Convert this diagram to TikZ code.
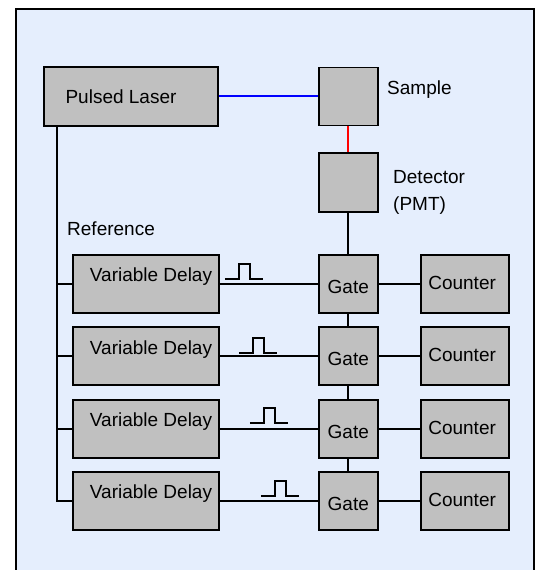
\documentclass[tikz,border=0pt]{standalone}
\usepackage{fontspec}
\setmainfont{Liberation Sans}
\usetikzlibrary{calc,positioning}
\definecolor{panelblue}{RGB}{229,238,253}
\definecolor{boxgray}{RGB}{192,192,192}

\begin{document}
\begin{tikzpicture}[
  x=1pt, y=-1pt,
  font=\fontsize{19}{23}\selectfont,
  box/.style={draw, line width=1.8pt, fill=boxgray, inner sep=0pt},
  delaybox/.style={box, minimum width=146pt, minimum height=58pt},
  gatebox/.style={box, minimum width=59pt, minimum height=58pt},
  countbox/.style={box, minimum width=88pt, minimum height=58pt},
  wire/.style={line width=2pt},
  pulse/.style={line width=2pt},
  tag/.style={inner sep=0pt, anchor=west}
]
  \clip (0,0) rectangle (538,570);
  \draw[line width=2.5pt, fill=panelblue] (16,9) rectangle (534,600);

  % rows of delay, gate and counter
  \node[delaybox, label={[xshift=5pt,yshift=7pt]center:Variable Delay}] (d1) at (146,284) {};
  \node[delaybox, below=12.5pt of d1, label={[xshift=5pt,yshift=7pt]center:Variable Delay}] (d2) {};
  \node[delaybox, below=12.5pt of d2, label={[xshift=5pt,yshift=7pt]center:Variable Delay}] (d3) {};
  \node[delaybox, below=12.5pt of d3, label={[xshift=5pt,yshift=7pt]center:Variable Delay}] (d4) {};

  \node[gatebox, right=98pt of d1, label={[yshift=-3pt]center:Gate}] (g1) {};
  \node[gatebox, right=98pt of d2, label={[yshift=-3pt]center:Gate}] (g2) {};
  \node[gatebox, right=98pt of d3, label={[yshift=-3pt]center:Gate}] (g3) {};
  \node[gatebox, right=98pt of d4, label={[yshift=-3pt]center:Gate}] (g4) {};

  \node[countbox, right=41pt of g1, label={[xshift=-2.5pt,yshift=1pt]center:Counter}] (c1) {};
  \node[countbox, right=41pt of g2, label={[xshift=-2.5pt,yshift=1pt]center:Counter}] (c2) {};
  \node[countbox, right=41pt of g3, label={[xshift=-2.5pt,yshift=1pt]center:Counter}] (c3) {};
  \node[countbox, right=41pt of g4, label={[xshift=-2.5pt,yshift=1pt]center:Counter}] (c4) {};

  % source and detection path
  \node[gatebox, minimum height=59pt, above=41pt of g1] (det) {};
  \node[gatebox, above=26pt of det] (sample) {};
  \node[box, minimum width=174pt, minimum height=59pt, left=99pt of sample,
        label={[xshift=-10pt]center:Pulsed Laser}] (laser) {};

  \node[tag] (sampletxt) at (387,90) {Sample};
  \node[tag] (dettxt) at (393,177) {Detector};
  \node[tag] (pmttxt) at (393,206) {(PMT)};
  \node[tag] (reftxt) at (67,229) {Reference};

  \draw[wire, blue] (laser.east) -- (sample.west);
  \draw[wire, red] (sample.south) -- (det.north);
  \draw[wire] (det.south) -- (g1.north);
  \draw[wire] (g1.south) -- (g2.north);
  \draw[wire] (g2.south) -- (g3.north);
  \draw[wire] (g3.south) -- (g4.north);

  % reference trunk
  \coordinate (trunk) at ($(laser.south west)+(14,0)$);
  \draw[wire] (trunk) |- (d4.west);
  \draw[wire] (trunk |- d1.west) -- (d1.west);
  \draw[wire] (trunk |- d2.west) -- (d2.west);
  \draw[wire] (trunk |- d3.west) -- (d3.west);

  \draw[wire] (d1.east) -- (g1.west);
  \draw[wire] (d2.east) -- (g2.west);
  \draw[wire] (d3.east) -- (g3.west);
  \draw[wire] (d4.east) -- (g4.west);
  \draw[wire] (g1.east) -- (c1.west);
  \draw[wire] (g2.east) -- (c2.west);
  \draw[wire] (g3.east) -- (c3.west);
  \draw[wire] (g4.east) -- (c4.west);

  % delayed pulses
  \draw[pulse] ($(d1.east)+(5,-5)$) -- ++(14,0) -- ++(0,-15) -- ++(11,0) -- ++(0,15) -- ++(13,0);
  \draw[pulse] ($(d2.east)+(19,-3)$) -- ++(14,0) -- ++(0,-15) -- ++(11,0) -- ++(0,15) -- ++(13,0);
  \draw[pulse] ($(d3.east)+(30,-5.5)$) -- ++(14,0) -- ++(0,-15) -- ++(11,0) -- ++(0,15) -- ++(13,0);
  \draw[pulse] ($(d4.east)+(41,-5)$) -- ++(14,0) -- ++(0,-15) -- ++(11,0) -- ++(0,15) -- ++(13,0);
\end{tikzpicture}
\end{document}
